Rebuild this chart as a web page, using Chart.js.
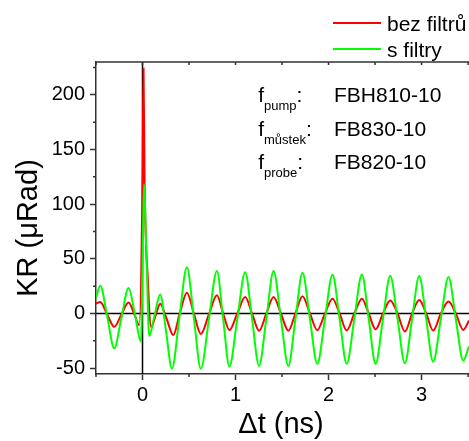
<!DOCTYPE html>
<html><head><meta charset="utf-8">
<script src="https://cdn.jsdelivr.net/npm/chart.js@4"></script>
<style>html,body{margin:0;padding:0;background:#fff;overflow:hidden}#wrap{position:relative;width:469px;height:441px}</style>
</head><body><div id="wrap"><canvas id="c" width="469" height="441"></canvas></div>
<script>
const seriesNames = ["bez filtrů", "s filtry"];
const redX = [-0.5,-0.454,-0.379,-0.304,-0.227,-0.150,-0.09,-0.035,0.0,0.011,0.022,0.058,0.093,0.14,0.19,0.26,0.33,0.40,0.477,
  0.552,0.627,0.713,0.800,0.867,0.934,1.019,1.104,1.178,1.253,1.331,1.409,1.488,1.568,1.644,1.720,1.800,1.879,1.961,2.043,2.119,2.195,2.277,2.359,2.432,2.506,2.585,2.663,2.742,2.821,2.898,2.975,3.050,3.125,3.207,3.290,3.368,3.448,3.51];
const redY = [9,10.6,-1,-12.1,-1,10,0,-10.6,121,224,121,30,-12.5,-2,9,-5,-19.7,0,19,
  0,-18.8,-1,16.6,0,-15.2,0,15,0,-15.8,0,15,0,-15.8,0,15.7,0,-15.2,0,13.6,0,-15.5,0,13.6,0,-14.5,0,12,0,-16.5,0,12.4,0,-15.6,0,10.9,0,-15,-6.5];
const greenX = [-0.5,-0.454,-0.379,-0.304,-0.227,-0.150,-0.083,-0.017,0.018,0.043,0.072,0.13,0.19,0.253,0.316,0.396,0.477,
  0.552,0.627,0.713,0.800,0.867,0.934,1.019,1.104,1.178,1.253,1.331,1.409,1.488,1.568,1.644,1.720,1.800,1.879,1.961,2.043,2.119,2.195,2.277,2.359,2.432,2.506,2.585,2.663,2.742,2.821,2.898,2.975,3.050,3.125,3.207,3.290,3.368,3.448,3.51];
const greenY = [14,25.5,-3,-31.8,-4,23.3,0,-25.8,118,50,-20.6,-1.5,17.5,-16,-50.6,-4,42.4,
  -4,-50.6,-6,38.8,-5,-48.5,-5,37.8,-5,-47.9,-5,38.8,-5,-47.9,-5,37.2,-5,-46,-5,35.4,-5,-46,-5,35.7,-5,-46,-5,34.5,-5,-45.5,-5,34.2,-5,-44,-5,33.3,-5,-43,-30];
const xTicks = [0, 1, 2, 3];
const xMinor = [-0.5, 0.5, 1.5, 2.5, 3.5];
const yTicks = [-50, 0, 50, 100, 150, 200];
const yMinor = [-25, 25, 75, 125, 175, 225];
const xTitle = "Δt (ns)";
const yTitle = "KR (μRad)";
const filterSubs = ["pump", "můstek", "probe"];
const filterNames = ["FBH810-10", "FB830-10", "FB820-10"];

const FAM = 'Arial, "Liberation Sans", sans-serif';
const AX = '#333';

const toPts = (xs, ys) => xs.map((v, i) => ({x: v, y: ys[i]}));

const decor = {
  id: 'decor',
  beforeDatasetsDraw(chart) {
    const {ctx, chartArea: a, scales: {x, y}} = chart;
    ctx.save();
    ctx.strokeStyle = '#000'; ctx.lineWidth = 1.5;
    const y0 = y.getPixelForValue(0), x0 = x.getPixelForValue(0);
    ctx.beginPath();
    ctx.moveTo(a.left, y0); ctx.lineTo(a.right, y0);
    ctx.moveTo(x0, a.top); ctx.lineTo(x0, a.bottom);
    ctx.stroke();
    ctx.restore();
  },
  afterDraw(chart) {
    const {ctx, chartArea: a, scales: {x, y}} = chart;
    ctx.save();
    ctx.strokeStyle = AX; ctx.lineWidth = 1.5;
    ctx.beginPath();
    ctx.moveTo(a.left, a.top); ctx.lineTo(a.right, a.top);
    [...xTicks, ...xMinor].forEach(v => { const p = x.getPixelForValue(v); ctx.moveTo(p, a.top); ctx.lineTo(p, a.top + 3); });
    yMinor.forEach(v => { const p = y.getPixelForValue(v); ctx.moveTo(a.left - 3, p); ctx.lineTo(a.left, p); });
    xMinor.forEach(v => { const p = x.getPixelForValue(v); ctx.moveTo(p, a.bottom); ctx.lineTo(p, a.bottom + 3); });
    ctx.stroke();

    // legend
    const ds = chart.data.datasets;
    const order = [ds.find(d => d.label === seriesNames[0]), ds.find(d => d.label === seriesNames[1])];
    const ly = [23, 49], lb = [30.5, 57];
    order.forEach((d, i) => {
      ctx.strokeStyle = d.borderColor; ctx.lineWidth = 2;
      ctx.beginPath(); ctx.moveTo(333, ly[i]); ctx.lineTo(381, ly[i]); ctx.stroke();
      ctx.fillStyle = '#000'; ctx.font = '21px ' + FAM; ctx.textAlign = 'left'; ctx.textBaseline = 'alphabetic';
      ctx.fillText(d.label, 387, lb[i]);
    });

    // filter annotation
    const base = [102.3, 135.7, 169];
    filterSubs.forEach((s, i) => {
      ctx.font = '21px ' + FAM; ctx.fillStyle = '#000';
      ctx.fillText('f', 258.3, base[i]);
      ctx.font = '13px ' + FAM;
      ctx.fillText(s, 264, base[i] + 8);
      const w = ctx.measureText(s).width;
      ctx.font = '21px ' + FAM;
      ctx.fillText(':', 264 + w, base[i]);
      ctx.fillText(filterNames[i], 334, base[i]);
    });

    // axis titles
    ctx.font = '29px ' + FAM; ctx.textAlign = 'center';
    ctx.fillText(xTitle, 281, 433);
    ctx.translate(37, 228); ctx.rotate(-Math.PI / 2);
    ctx.fillText(yTitle, 0, 0);
    ctx.restore();
  }
};

const tickFont = {size: 20, family: FAM};
new Chart(document.getElementById('c'), {
  type: 'line',
  data: {
    datasets: [
      {label: seriesNames[1], data: toPts(greenX, greenY), borderColor: '#00ff00', borderWidth: 2, pointRadius: 0, cubicInterpolationMode: 'monotone', order: 0},
      {label: seriesNames[0], data: toPts(redX, redY), borderColor: '#ff0000', borderWidth: 2, pointRadius: 0, cubicInterpolationMode: 'monotone', order: 1}
    ]
  },
  options: {
    responsive: false, animation: false, devicePixelRatio: 1,
    layout: {padding: {top: 62, left: 0, right: 0, bottom: 0}},
    plugins: {legend: {display: false}, tooltip: {enabled: false}},
    scales: {
      x: {
        type: 'linear', min: -0.5, max: 3.51,
        afterBuildTicks: s => { s.ticks = xTicks.map(v => ({value: v})); },
        afterFit: s => { s.height = 67; },
        grid: {drawOnChartArea: false, drawTicks: true, tickLength: 6, tickColor: AX, tickWidth: 1.5},
        border: {display: true, color: AX, width: 1.5},
        ticks: {font: tickFont, color: '#000', padding: 3, maxRotation: 0, autoSkip: false}
      },
      y: {
        type: 'linear', min: -55.3, max: 230,
        afterBuildTicks: s => { s.ticks = yTicks.map(v => ({value: v})); },
        afterFit: s => { s.width = 96; },
        grid: {drawOnChartArea: false, drawTicks: true, tickLength: 6, tickColor: AX, tickWidth: 1.5},
        border: {display: true, color: AX, width: 1.5},
        ticks: {font: tickFont, color: '#000', padding: 5, autoSkip: false}
      }
    }
  },
  plugins: [decor]
});
</script>
</body></html>
